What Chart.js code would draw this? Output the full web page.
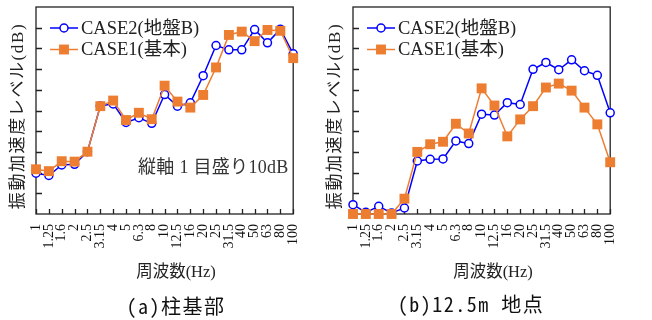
<!DOCTYPE html>
<html>
<head>
<meta charset="utf-8">
<script src="https://cdn.jsdelivr.net/npm/chart.js@4.4.1/dist/chart.umd.min.js"></script>
<style>
  html, body { margin: 0; padding: 0; background: #fff; }
  body { width: 652px; height: 320px; position: relative; overflow: hidden;
         font-family: "Liberation Serif", "Noto Sans CJK JP", serif; color: #222; }
  .panel { position: absolute; top: 0; width: 320px; height: 320px; }
  .panel canvas { position: absolute; left: 0; top: 0; }
  .ytitle { position: absolute; width: 230px; height: 22px; line-height: 22px; text-align: center;
            font-size: 17px; letter-spacing: 1.6px; transform: rotate(-90deg); white-space: nowrap; }
  .xtitle { position: absolute; width: 160px; text-align: center; font-size: 16.5px; line-height: 20px; white-space: nowrap; }
  .ptitle { position: absolute; width: 220px; text-align: center; font-size: 20px; line-height: 24px; white-space: nowrap;
            font-family: "Noto Sans Mono CJK JP", "Noto Sans CJK JP", sans-serif; color: #111; letter-spacing: 1.5px; }
  .note { position: absolute; font-size: 18px; line-height: 22px; white-space: nowrap; color: #333; letter-spacing: 0.3px; }
</style>
</head>
<body>

<div class="panel" style="left:0px">
  <canvas id="chartBase" width="320" height="320"></canvas>
  <div class="ytitle" style="left:-97px; top:105px;">振動加速度レベル(dB)</div>
  <div class="xtitle" style="left:96px; top:262px;">周波数(Hz)</div>
  <div class="note" style="left:138px; top:156px;">縦軸 1 目盛り10dB</div>
</div>

<div class="panel" style="left:317px">
  <canvas id="chartSite" width="320" height="320"></canvas>
  <div class="ytitle" style="left:-97px; top:105px;">振動加速度レベル(dB)</div>
  <div class="xtitle" style="left:96px; top:262px;">周波数(Hz)</div>
</div>

<div class="ptitle" style="left:66px; top:294px;">(a)柱基部</div>
<div class="ptitle" style="left:361px; top:292px;">(b)12.5m 地点</div>

<script>
// 1/3-octave band centre frequencies (Hz)
const freqLabels = ['1', '1.25', '1.6', '2', '2.5', '3.15', '4', '5', '6.3', '8', '10',
                    '12.5', '16', '20', '25', '31.5', '40', '50', '63', '80', '100'];

// vertical axis: relative level, one division = 10 dB
const levelMin = 0;
const levelMax = 100;
const levelStep = 10;

// (a) column base
const baseCase2 = [19.7, 18.6, 23.7, 24.0, 30.1, 52.2, 53.2, 44.2, 46.5, 43.8, 57.7,
                   52.1, 53.7, 66.8, 81.4, 79.3, 79.3, 89.1, 82.7, 89.3, 77.4];
const baseCase1 = [21.6, 20.7, 25.5, 25.3, 30.1, 52.1, 54.8, 45.4, 48.9, 45.8, 62.0,
                   54.3, 51.4, 57.5, 70.8, 86.5, 88.1, 83.5, 88.9, 88.5, 75.3];

// (b) point at 12.5 m
const siteCase2 = [4.5, 0.8, 3.7, 0.5, 2.9, 25.6, 26.4, 26.6, 35.3, 34.0, 48.2,
                   47.8, 53.8, 52.9, 69.9, 73.2, 69.7, 74.5, 69.2, 67.0, 48.9];
const siteCase1 = [0.0, 0.0, 0.0, 0.0, 7.4, 30.0, 33.7, 34.9, 43.6, 38.9, 60.7,
                   52.4, 37.5, 45.7, 52.1, 61.1, 63.0, 59.6, 51.4, 43.3, 25.0];

const seriesNames = { case2: 'CASE2(地盤B)', case1: 'CASE1(基本)' };

const BLUE = '#0000ff';
const ORANGE = '#ed7d31';

// box around the plot area with short inward tick marks
const framePlugin = {
  id: 'frame',
  beforeDatasetsDraw(chart) {
    const { ctx, chartArea: a, scales } = chart;
    ctx.save();
    ctx.strokeStyle = '#222';
    ctx.lineWidth = 1.3;
    ctx.beginPath();
    scales.y.ticks.forEach(t => {
      if (t.value <= levelMin || t.value >= levelMax) return;
      const y = Math.round(scales.y.getPixelForValue(t.value)) + 0.5;
      ctx.moveTo(a.left, y);
      ctx.lineTo(a.left + 6, y);
    });
    scales.x.ticks.forEach((t, i) => {
      const x = Math.round(scales.x.getPixelForTick(i)) + 0.5;
      ctx.moveTo(x, a.bottom);
      ctx.lineTo(x, a.bottom - 5);
    });
    ctx.stroke();
    ctx.strokeRect(a.left, a.top, a.right - a.left, a.bottom - a.top);
    ctx.restore();
  }
};

// legend drawn inside the plot area, CASE2 first
const innerLegend = {
  id: 'innerLegend',
  afterDatasetsDraw(chart) {
    const { ctx, chartArea: a } = chart;
    const order = [1, 0];
    ctx.save();
    order.forEach((di, row) => {
      const ds = chart.data.datasets[di];
      const y = a.top + 21 + row * 21.5;
      const x0 = a.left + 14, x1 = a.left + 42, xm = a.left + 28;
      ctx.strokeStyle = ds.borderColor;
      ctx.lineWidth = ds.borderWidth;
      ctx.beginPath();
      ctx.moveTo(x0, y);
      ctx.lineTo(x1, y);
      ctx.stroke();
      ctx.fillStyle = ds.pointBackgroundColor;
      ctx.strokeStyle = ds.pointBorderColor;
      ctx.lineWidth = ds.pointBorderWidth;
      ctx.beginPath();
      if (ds.pointStyle === 'rect') {
        const s = Math.SQRT1_2 * ds.pointRadius;
        ctx.rect(xm - s, y - s, 2 * s, 2 * s);
        ctx.fill();
      } else {
        ctx.arc(xm, y, ds.pointRadius, 0, Math.PI * 2);
        ctx.fill();
        ctx.stroke();
      }
      ctx.fillStyle = '#222';
      ctx.font = '18.5px "Liberation Serif", "Noto Sans CJK JP", serif';
      ctx.textBaseline = 'middle';
      ctx.textAlign = 'left';
      ctx.fillText(ds.label, a.left + 45, y + 1);
    });
    ctx.restore();
  }
};

function makeChart(canvasId, case2, case1, padRight) {
  return new Chart(document.getElementById(canvasId), {
    type: 'line',
    data: {
      labels: freqLabels,
      datasets: [
        {
          label: seriesNames.case1,
          data: case1,
          borderColor: ORANGE,
          borderWidth: 1.5,
          pointStyle: 'rect',
          pointRadius: 7,
          pointBackgroundColor: ORANGE,
          pointBorderColor: ORANGE,
          pointBorderWidth: 0,
          tension: 0,
          clip: false
        },
        {
          label: seriesNames.case2,
          data: case2,
          borderColor: BLUE,
          borderWidth: 1.5,
          pointStyle: 'circle',
          pointRadius: 4,
          pointBackgroundColor: '#ffffff',
          pointBorderColor: BLUE,
          pointBorderWidth: 1.5,
          tension: 0,
          clip: false
        }
      ]
    },
    options: {
      responsive: false,
      animation: false,
      events: [],
      layout: { padding: { top: 7, right: padRight, left: 0, bottom: 0 } },
      plugins: { legend: { display: false }, tooltip: { enabled: false }, title: { display: false } },
      scales: {
        x: {
          type: 'category',
          offset: false,
          grid: { display: false, drawTicks: false },
          border: { display: false },
          ticks: {
            autoSkip: false,
            minRotation: 90,
            maxRotation: 90,
            padding: 10,
            color: '#111',
            font: { family: '"Liberation Serif", serif', size: 14 }
          },
          afterFit(scale) { scale.height = 320 - 214; }
        },
        y: {
          min: levelMin,
          max: levelMax,
          grid: { display: false, drawTicks: false },
          border: { display: false },
          ticks: { display: false, stepSize: levelStep },
          afterFit(scale) { scale.width = 36; }
        }
      }
    },
    plugins: [framePlugin, innerLegend]
  });
}

makeChart('chartBase', baseCase2, baseCase1, 4);
makeChart('chartSite', siteCase2, siteCase1, 3);
</script>
</body>
</html>
